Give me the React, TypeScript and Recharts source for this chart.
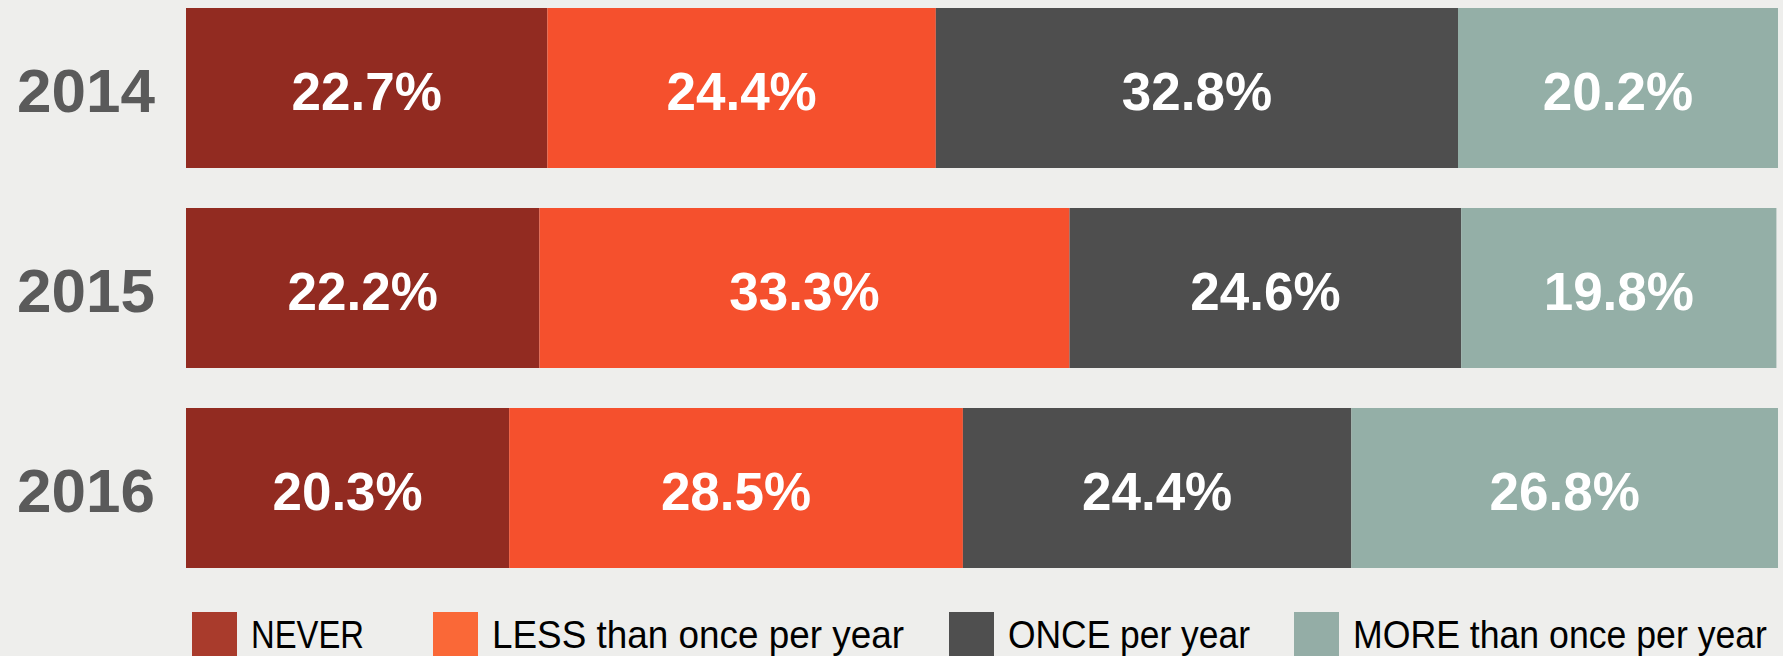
import React from 'react';
import { BarChart, Bar, XAxis, YAxis, LabelList, Legend } from 'recharts';

const years = ['2014', '2015', '2016'];
const never = [22.7, 22.2, 20.3];
const less = [24.4, 33.3, 28.5];
const once = [32.8, 24.6, 24.4];
const more = [20.2, 19.8, 26.8];

const seriesNames = ['NEVER', 'LESS than once per year', 'ONCE per year', 'MORE than once per year'];
const seriesKeys = ['never', 'less', 'once', 'more'];
const barColors = ['#922B21', '#F5502D', '#4E4E4E', '#94AFA7'];
const legendColors = ['#A93B2C', '#FA6837', '#4F4F4F', '#94ADA6'];

const data = years.map((y, i) => ({
  year: y,
  never: never[i],
  less: less[i],
  once: once[i],
  more: more[i],
}));

const BG = '#EEEEEC';
const W = 1783;
const H = 656;

// legend layout (style only)
const legendX = [192, 433, 949, 1294];
const legendTextW = [113, 412, 242, 414];

const YearTick = (props: any) => {
  const { x, y, payload } = props;
  return (
    <text
      x={x}
      y={y + 24}
      textAnchor="end"
      fill="#5A5A5A"
      fontSize={62}
      fontWeight="bold"
      fontFamily="'Liberation Sans', Arial, sans-serif"
    >
      {payload.value}
    </text>
  );
};

const renderLegend = () => (
  <svg width={W} height={56} style={{ display: 'block' }}>
    {seriesNames.map((name, i) => (
      <g key={name}>
        <rect x={legendX[i]} y={12} width={45} height={50} fill={legendColors[i]} />
        <text
          x={legendX[i] + 59}
          y={48}
          fontSize={39}
          fill="#000"
          textLength={legendTextW[i]}
          lengthAdjust="spacingAndGlyphs"
          fontFamily="'Liberation Sans', Arial, sans-serif"
        >
          {name}
        </text>
      </g>
    ))}
  </svg>
);

export default function App() {
  return (
    <div
      style={{
        position: 'fixed',
        left: 0,
        top: 0,
        width: W,
        height: H,
        background: BG,
        overflow: 'hidden',
      }}
    >
      <BarChart
        width={W}
        height={H}
        data={data}
        layout="vertical"
        margin={{ top: -12, right: 5, bottom: 68, left: 0 }}
        barSize={160}
      >
        <XAxis type="number" domain={[0, 100]} hide allowDataOverflow />
        <YAxis
          type="category"
          dataKey="year"
          width={186}
          axisLine={false}
          tickLine={false}
          tickSize={0}
          tickMargin={31}
          tick={<YearTick />}
        />
        {seriesKeys.map((k, i) => (
          <Bar
            key={k}
            dataKey={k}
            name={seriesNames[i]}
            stackId="a"
            fill={barColors[i]}
            isAnimationActive={false}
          >
            <LabelList
              dataKey={k}
              position="center"
              fill="#FFFFFF"
              fontSize={53}
              fontWeight="bold"
              fontFamily="'Liberation Sans', Arial, sans-serif"
              dy={3}
              formatter={(v: any) => `${Number(v).toFixed(1)}%`}
            />
          </Bar>
        ))}
        <Legend
          layout="horizontal"
          verticalAlign="middle"
          align="center"
          content={renderLegend}
          wrapperStyle={{ left: 0, top: 600, width: W, height: 56, margin: 0, padding: 0 }}
        />
      </BarChart>
    </div>
  );
}
